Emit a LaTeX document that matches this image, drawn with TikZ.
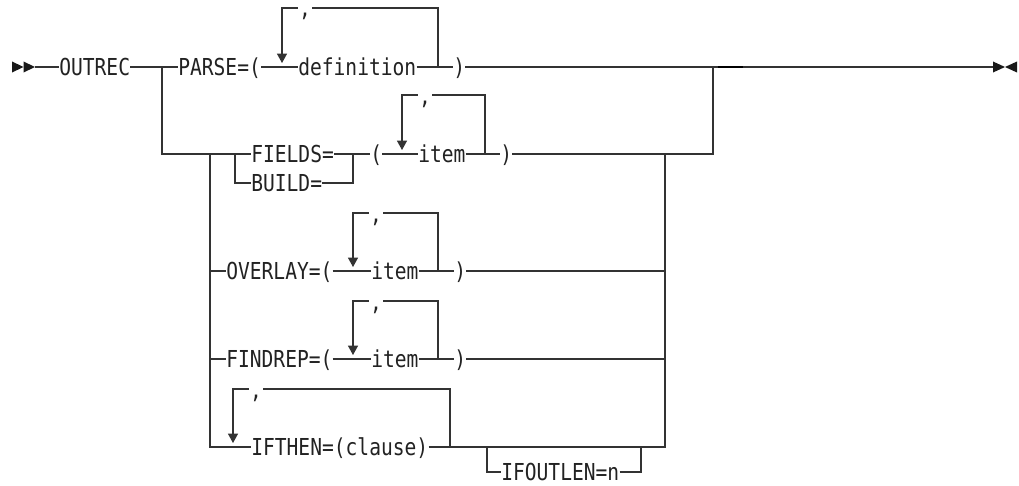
\documentclass[tikz,border=0pt]{standalone}
\usepackage{fontspec}
\usepackage{tikz}
\usetikzlibrary{arrows.meta, positioning, calc}
\newfontfamily\railfont{DejaVu Sans Mono}[FakeStretch=0.84]
\definecolor{railgray}{HTML}{333333}
\definecolor{textgray}{HTML}{222222}

\begin{document}
\begin{tikzpicture}[
  x=0.75pt, y=-0.75pt,
  every node/.style={font=\railfont\fontsize{17.5pt}{20pt}\selectfont, text=textgray},
  kw/.style={inner xsep=0pt, inner ysep=0pt, anchor=west, text height=12.76pt, text depth=0pt},
  sep/.style={inner sep=0pt, minimum width=10.5pt, anchor=base},
  rail/.style={draw=railgray, line width=0.8pt},
  rep/.style={rail, -{Triangle[width=7.5pt, length=7pt]}},
  marker/.style={fill=black!90},
]
  \useasboundingbox (0,0) rectangle (1019,485);

  % keywords and variables
  \node[kw] (outrec) at (59,67) {OUTREC};
  \node[kw] (parse) at (178,67) {PARSE=(};
  \node[kw] (defn) at (298,67) {definition};
  \node[kw] (pclose) at (453,67) {)};
  \node[kw] (fields) at (251,154) {FIELDS=};
  \node[kw] (build) at (251,183) {BUILD=};
  \node[kw] (fopen) at (370,154) {(};
  \node[kw] (fitem) at (418,154) {item};
  \node[kw] (fclose) at (500,154) {)};
  \node[kw] (overlay) at (226,271) {OVERLAY=(};
  \node[kw] (oitem) at (371,271) {item};
  \node[kw] (oclose) at (454,271) {)};
  \node[kw] (findrep) at (226,359) {FINDREP=(};
  \node[kw] (ritem) at (371,359) {item};
  \node[kw] (rclose) at (454,359) {)};
  \node[kw] (ifthen) at (251,447) {IFTHEN=(clause)};
  \node[kw] (ifoutlen) at (501,472) {IFOUTLEN=n};

  % repeat separators
  \node[sep] (pcomma) at (305,17) {,};
  \node[sep] (fcomma) at (425,104) {,};
  \node[sep] (ocomma) at (376,222) {,};
  \node[sep] (rcomma) at (376,310) {,};
  \node[sep] (icomma) at (256,398) {,};

  % junctions
  \coordinate (start) at (35,67);
  \coordinate (stop) at (993,67);
  \coordinate (jl) at (162,67);
  \coordinate (jv) at (210,154);
  \coordinate (bsplit) at (235,154);
  \coordinate (bjoin) at (353,154);
  \coordinate (jr) at (665,154);
  \coordinate (jR) at (713,67);
  \coordinate (osplit) at (487,447);
  \coordinate (ojoin) at (641,447);
  \coordinate (pl) at (282,8);    \coordinate (pr) at (438,8);
  \coordinate (fl) at (402,95);   \coordinate (fr) at (485,95);
  \coordinate (ovl) at (353,213); \coordinate (ovr) at (438,213);
  \coordinate (fdl) at (353,301); \coordinate (fdr) at (438,301);
  \coordinate (itl) at (233,389); \coordinate (itr) at (450,389);

  % start and end marks
  \fill[marker] (12,61.5) -- (23.5,67) -- (12,72.5) -- cycle;
  \fill[marker] (23.5,61.5) -- (35,67) -- (23.5,72.5) -- cycle;
  \fill[marker] (stop) -- ++(0,-5.5) -- ++(12,5.5) -- ++(-12,5.5) -- cycle;
  \fill[marker] (1017,61.5) -- (1005,67) -- (1017,72.5) -- cycle;

  % main line
  \draw[rail] (start) -- (outrec.west);
  \draw[rail] (outrec.east) -- (parse.west);
  \draw[rail] (parse.east) -- (defn.west);
  \draw[rail] (defn.east) -- (pclose.west);
  \draw[rail] (pclose.east) -- (stop);
  \draw[rail, draw=black, line width=1.8pt] ($(jR)+(5,0)$) -- ($(jR)+(30,0)$);

  % FIELDS / BUILD
  \draw[rail] (jl) |- (fields.west);
  \draw[rail] (bsplit) |- (build.west);
  \draw[rail] (build.east) -| (bjoin);
  \draw[rail] (fields.east) -- (fopen.west);
  \draw[rail] (fopen.east) -- (fitem.west);
  \draw[rail] (fitem.east) -- (fclose.west);
  \draw[rail] (fclose.east) -| (jR);

  % OVERLAY, FINDREP, IFTHEN
  \draw[rail] (jv) |- (ifthen.west);
  \draw[rail] (jv |- overlay.west) -- (overlay.west);
  \draw[rail] (overlay.east) -- (oitem.west);
  \draw[rail] (oitem.east) -- (oclose.west);
  \draw[rail] (oclose.east) -| (jr);
  \draw[rail] (jv |- findrep.west) -- (findrep.west);
  \draw[rail] (findrep.east) -- (ritem.west);
  \draw[rail] (ritem.east) -- (rclose.west);
  \draw[rail] (rclose.east) -| (jr);
  \draw[rail] (ifthen.east) -| (jr);
  \draw[rail] (osplit) |- (ifoutlen.west);
  \draw[rail] (ifoutlen.east) -| (ojoin);

  % repeat loops
  \draw[rail] (pcomma.east |- pl) -- (pr) -- (pr |- defn.east);
  \draw[rep] (pcomma.west |- pl) -- (pl) -- ($(pl |- defn.west)+(0,-4)$);
  \draw[rail] (fcomma.east |- fl) -- (fr) -- (fr |- fitem.east);
  \draw[rep] (fcomma.west |- fl) -- (fl) -- ($(fl |- fitem.west)+(0,-4)$);
  \draw[rail] (ocomma.east |- ovl) -- (ovr) -- (ovr |- oitem.east);
  \draw[rep] (ocomma.west |- ovl) -- (ovl) -- ($(ovl |- oitem.west)+(0,-4)$);
  \draw[rail] (rcomma.east |- fdl) -- (fdr) -- (fdr |- ritem.east);
  \draw[rep] (rcomma.west |- fdl) -- (fdl) -- ($(fdl |- ritem.west)+(0,-4)$);
  \draw[rail] (icomma.east |- itl) -- (itr) -- (itr |- ifthen.east);
  \draw[rep] (icomma.west |- itl) -- (itl) -- ($(itl |- ifthen.west)+(0,-4)$);
\end{tikzpicture}
\end{document}
